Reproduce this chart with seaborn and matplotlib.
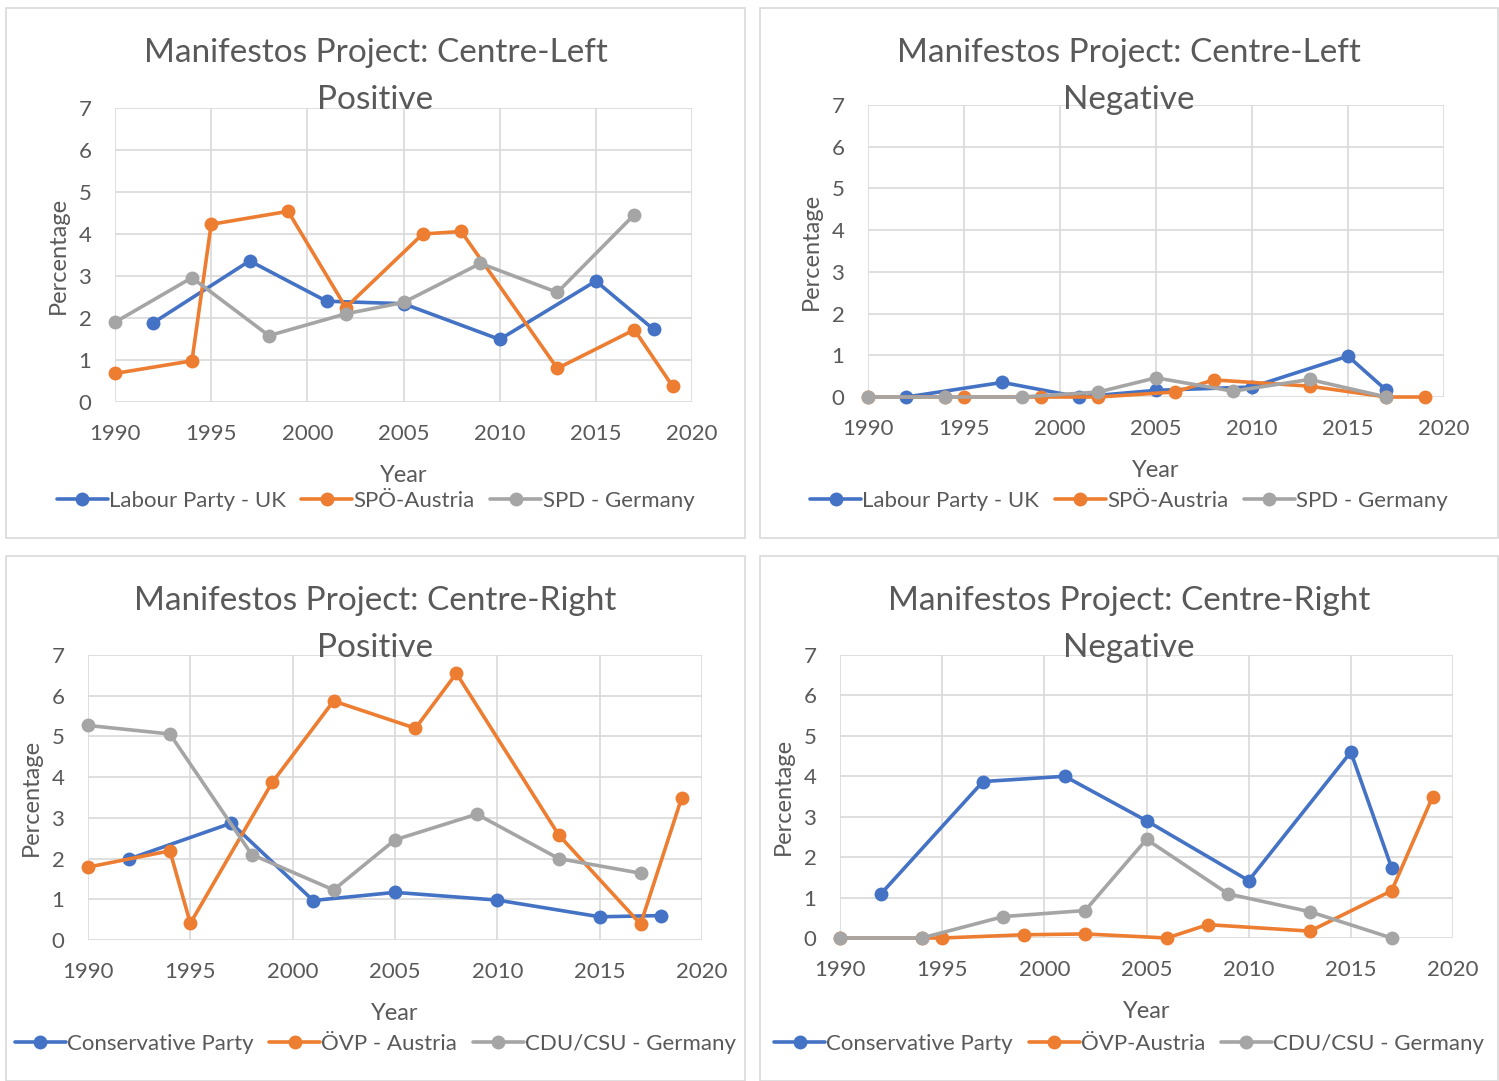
import numpy as np
import pandas as pd
import matplotlib
matplotlib.use("Agg")
import matplotlib.pyplot as plt
from matplotlib.lines import Line2D
from matplotlib.patches import Rectangle
import seaborn as sns

# ---- data ------------------------------------------------------------------
# Centre-Left Positive
cl_pos_labour_year = [1992, 1997, 2001, 2005, 2010, 2015, 2018]
cl_pos_labour_val = [1.89, 3.36, 2.40, 2.34, 1.49, 2.88, 1.73]
cl_pos_spo_year = [1990, 1994, 1995, 1999, 2002, 2006, 2008, 2013, 2017, 2019]
cl_pos_spo_val = [0.68, 0.98, 4.23, 4.54, 2.25, 4.00, 4.06, 0.80, 1.72, 0.37]
cl_pos_spd_year = [1990, 1994, 1998, 2002, 2005, 2009, 2013, 2017]
cl_pos_spd_val = [1.90, 2.96, 1.58, 2.10, 2.37, 3.30, 2.61, 4.46]

# Centre-Left Negative
cl_neg_labour_year = [1992, 1997, 2001, 2005, 2010, 2015, 2017]
cl_neg_labour_val = [0.0, 0.35, 0.0, 0.16, 0.24, 0.98, 0.16]
cl_neg_spo_year = [1990, 1994, 1995, 1999, 2002, 2006, 2008, 2013, 2017, 2019]
cl_neg_spo_val = [0.0, 0.0, 0.0, 0.0, 0.0, 0.12, 0.41, 0.26, 0.0, 0.0]
cl_neg_spd_year = [1990, 1994, 1998, 2002, 2005, 2009, 2013, 2017]
cl_neg_spd_val = [0.0, 0.0, 0.0, 0.12, 0.46, 0.14, 0.42, 0.0]

# Centre-Right Positive
cr_pos_con_year = [1992, 1997, 2001, 2005, 2010, 2015, 2018]
cr_pos_con_val = [1.99, 2.87, 0.97, 1.17, 0.98, 0.57, 0.60]
cr_pos_ovp_year = [1990, 1994, 1995, 1999, 2002, 2006, 2008, 2013, 2017, 2019]
cr_pos_ovp_val = [1.79, 2.19, 0.41, 3.87, 5.87, 5.20, 6.55, 2.58, 0.39, 3.48]
cr_pos_cdu_year = [1990, 1994, 1998, 2002, 2005, 2009, 2013, 2017]
cr_pos_cdu_val = [5.27, 5.06, 2.10, 1.23, 2.46, 3.09, 2.00, 1.64]

# Centre-Right Negative
cr_neg_con_year = [1992, 1997, 2001, 2005, 2010, 2015, 2017]
cr_neg_con_val = [1.09, 3.87, 4.00, 2.90, 1.42, 4.60, 1.73]
cr_neg_ovp_year = [1990, 1994, 1995, 1999, 2002, 2006, 2008, 2013, 2017, 2019]
cr_neg_ovp_val = [0.0, 0.0, 0.0, 0.08, 0.10, 0.0, 0.33, 0.17, 1.17, 3.49]
cr_neg_cdu_year = [1990, 1994, 1998, 2002, 2005, 2009, 2013, 2017]
cr_neg_cdu_val = [0.0, 0.0, 0.53, 0.68, 2.44, 1.09, 0.65, 0.0]

COLORS = ["#4472C4", "#ED7D31", "#A5A5A5"]
TXT = "#595959"
GRID = "#D9D9D9"

sns.set_theme(style="white")
plt.rcParams["font.family"] = ["Lato", "DejaVu Sans"]

W, H = 1499, 1081
fig = plt.figure(figsize=(W / 100, H / 100), dpi=100)


def frame(series):
    rows = []
    for name, years, vals in series:
        for y, v in zip(years, vals):
            rows.append({"Year": y, "Percentage": v, "Party": name})
    return pd.DataFrame(rows)


def panel(box, axbox, title, series):
    # box / axbox in pixel coords: (left, top, right, bottom)
    l, t, r, b = box
    fig.patches.append(Rectangle((l / W, 1 - b / H), (r - l) / W, (b - t) / H,
                                 transform=fig.transFigure, fill=False,
                                 edgecolor=GRID, lw=1.2))
    al, at, ar, ab = axbox
    ax = fig.add_axes([al / W, 1 - ab / H, (ar - al) / W, (ab - at) / H])
    df = frame(series)
    names = [s[0] for s in series]
    sns.lineplot(data=df, x="Year", y="Percentage", hue="Party", hue_order=names,
                 palette=COLORS, marker="o", markersize=10, markeredgewidth=0,
                 linewidth=2.6, sort=True, legend=False, ax=ax, clip_on=False)
    ax.set_xlim(1990, 2020)
    ax.set_ylim(0, 7)
    ax.set_xticks(range(1990, 2021, 5))
    ax.set_yticks(range(0, 8))
    ax.grid(True, color=GRID, lw=1.2)
    ax.set_axisbelow(True)
    for s in ax.spines.values():
        s.set_visible(False)
    ax.tick_params(axis="both", length=0, labelsize=16, labelcolor=TXT)
    ax.tick_params(axis="x", pad=16)
    ax.tick_params(axis="y", pad=17)
    ax.set_xlabel("Year", fontsize=17, color=TXT, labelpad=15)
    ax.set_ylabel("Percentage", fontsize=17, color=TXT, labelpad=7)
    cx = (l + r) / 2 / W
    fig.text(cx, 1 - 53 / H - (t - 8) / H, title[0], ha="center", va="center",
             fontsize=24, color=TXT)
    fig.text(cx, 1 - 100 / H - (t - 8) / H, title[1], ha="center", va="center",
             fontsize=24, color=TXT)
    handles = [Line2D([0], [0], color=c, lw=2.6, marker="o", markersize=10,
                      markeredgewidth=0) for c in COLORS]
    fig.legend(handles, names, loc="center", ncol=3, frameon=False,
               bbox_to_anchor=(cx, 1 - (b - 37) / H), fontsize=16,
               handlelength=2.3, handletextpad=0.05, columnspacing=0.7,
               labelcolor=TXT)
    return ax


panel((6, 8, 745, 538), (115, 108, 692, 402),
      ("Manifestos Project: Centre-Left", "Positive"),
      [("Labour Party - UK", cl_pos_labour_year, cl_pos_labour_val),
       ("SPÖ-Austria", cl_pos_spo_year, cl_pos_spo_val),
       ("SPD - Germany", cl_pos_spd_year, cl_pos_spd_val)])

panel((760, 8, 1498, 538), (868, 105, 1444, 397),
      ("Manifestos Project: Centre-Left", "Negative"),
      [("Labour Party - UK", cl_neg_labour_year, cl_neg_labour_val),
       ("SPÖ-Austria", cl_neg_spo_year, cl_neg_spo_val),
       ("SPD - Germany", cl_neg_spd_year, cl_neg_spd_val)])

panel((6, 556, 745, 1081), (88, 655, 702, 940),
      ("Manifestos Project: Centre-Right", "Positive"),
      [("Conservative Party", cr_pos_con_year, cr_pos_con_val),
       ("ÖVP - Austria", cr_pos_ovp_year, cr_pos_ovp_val),
       ("CDU/CSU - Germany", cr_pos_cdu_year, cr_pos_cdu_val)])

panel((760, 556, 1498, 1081), (840, 655, 1453, 938),
      ("Manifestos Project: Centre-Right", "Negative"),
      [("Conservative Party", cr_neg_con_year, cr_neg_con_val),
       ("ÖVP-Austria", cr_neg_ovp_year, cr_neg_ovp_val),
       ("CDU/CSU - Germany", cr_neg_cdu_year, cr_neg_cdu_val)])

fig.savefig("out.png", dpi=100)
